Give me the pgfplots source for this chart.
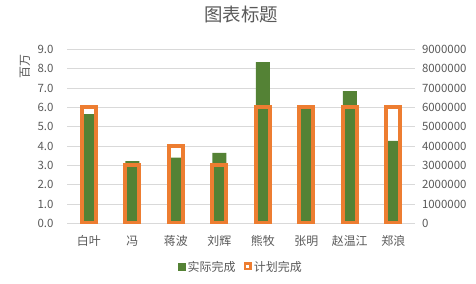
\documentclass[border=0pt]{standalone}
\usepackage{pgfplots}
\pgfplotsset{compat=1.18}
\usepackage{fontspec}
\setmainfont{Noto Sans CJK SC}
\definecolor{gA}{HTML}{548235}
\definecolor{oA}{HTML}{ED7D31}
\definecolor{txt}{HTML}{595959}
\definecolor{grd}{HTML}{D9D9D9}
\begin{document}
\begin{tikzpicture}
\path[use as bounding box] (0,0) rectangle (476bp,284bp);
\pgfplotsset{
  common/.style={
    scale only axis, width=348bp, height=174bp,
    at={(67bp,60.7bp)}, anchor=south west,
    xmin=-0.5, xmax=7.5, ymin=0,
    ybar, bar width=14bp, bar shift=0pt,
    major tick length=0pt,
    tick label style={font=\fontsize{11.5}{13}\selectfont, text=txt},
    /pgf/number format/assume math mode=true,
  }
}
\begin{axis}[common,
  ymax=9,
  ytick={0,1,...,9},
  yticklabel style={/pgf/number format/fixed, /pgf/number format/fixed zerofill, /pgf/number format/precision=1, xshift=-10bp},
  ymajorgrids, grid style={grd, line width=0.75bp},
  axis x line*=bottom, axis y line*=left,
  x axis line style={grd, line width=0.75bp, -},
  y axis line style={draw=none},
  xtick={0,...,7},
  xticklabels={白叶,冯,蒋波,刘辉,熊牧,张明,赵温江,郑浪},
  xticklabel style={anchor=center, yshift=-18bp, font=\fontsize{12}{14}\selectfont},
  ylabel={百万},
  ylabel style={at={(axis description cs:-0.121,0.9)}, anchor=center, text=txt, font=\fontsize{12}{14}\selectfont},
  title={图表标题},
  title style={at={(0.5,1)}, anchor=center, yshift=29bp, text=txt, font=\fontsize{18.5}{20}\selectfont},
]
\addplot[fill=gA, draw=none, bar shift=0pt] coordinates {
(0,5.65) (1,3.22) (2,3.40) (3,3.64) (4,8.34) (5,5.95) (6,6.84) (7,4.26)};
\end{axis}
\begin{axis}[common,
  ymax=9000000,
  ytick={0,1000000,...,9000000},
  scaled y ticks=false,
  yticklabel style={/pgf/number format/fixed, /pgf/number format/1000 sep={}, xshift=3.5bp},
  axis y line*=right, axis x line=none,
  y axis line style={draw=none},
  xtick=\empty,
  legend style={at={(0.5,-0.25)}, anchor=center, draw=none, fill=none,
    legend columns=2, font=\fontsize{12}{14}\selectfont, text=txt,
    /tikz/every even column/.append style={column sep=6bp},
    inner sep=0pt, legend cell align=left},
]
\addlegendimage{legend image code/.code={\fill[gA] (1bp,-3.5bp) rectangle (8bp,3.5bp);}}
\addlegendentry{实际完成}
\addplot[fill=none, draw=oA, line width=4bp, bar shift=0pt, forget plot] coordinates {
(0,6000000) (1,3000000) (2,4000000) (3,3000000) (4,6000000) (5,6000000) (6,6000000) (7,6000000)};
\addlegendimage{legend image code/.code={\draw[oA, line width=2.8bp, fill=white] (1.9bp,-2.3bp) rectangle (7.5bp,3.3bp);}}
\addlegendentry{计划完成}
\end{axis}
\end{tikzpicture}
\end{document}
